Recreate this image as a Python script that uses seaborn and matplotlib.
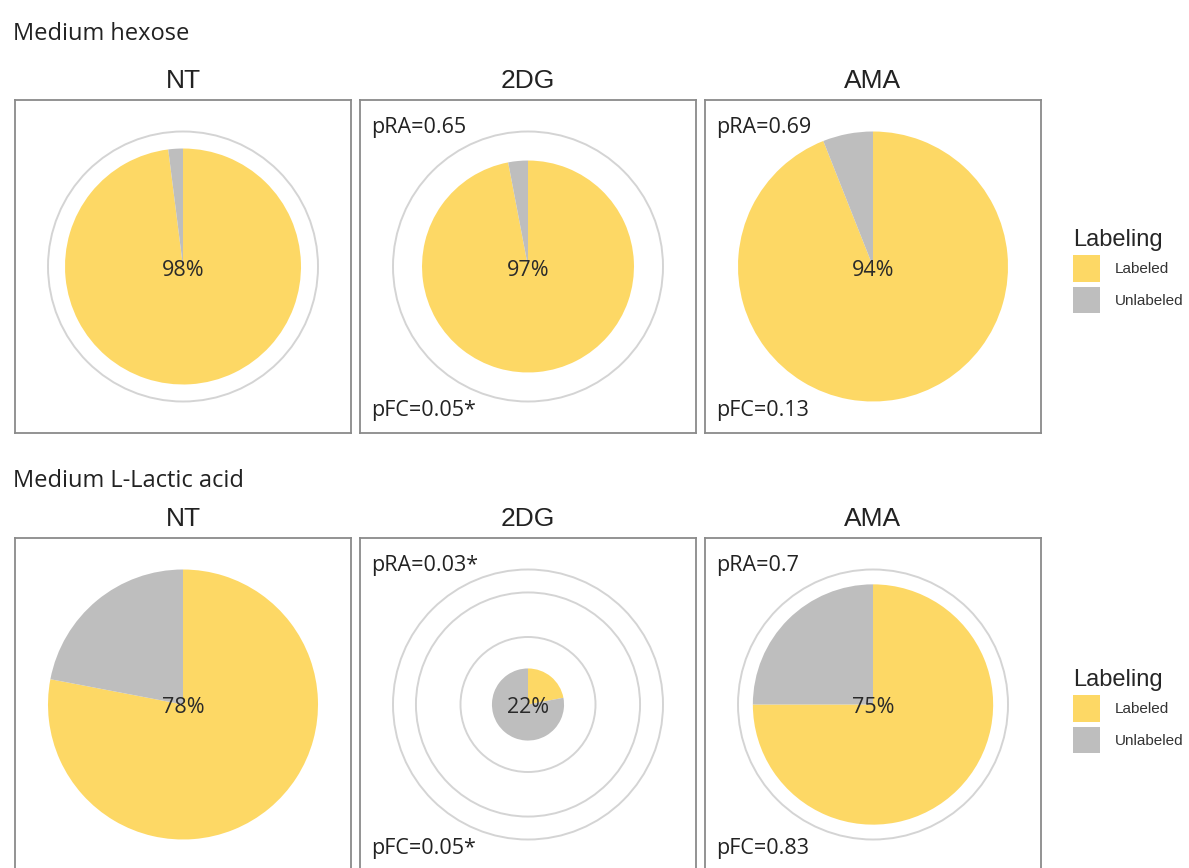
import matplotlib
matplotlib.use("Agg")
import matplotlib.pyplot as plt
from matplotlib.patches import Circle, Patch
import seaborn as sns

# ---- data -------------------------------------------------------------
row_titles = ["Medium hexose", "Medium L-Lactic acid"]
treatments = ["NT", "2DG", "AMA"]
categories = ["Labeled", "Unlabeled"]

# percent labeled per panel (row-major: hexose NT/2DG/AMA, lactate NT/2DG/AMA)
labeled_pct = [98, 97, 94, 78, 22, 75]
# relative pool size (pie radius, largest = 1)
relative_total = [0.874, 0.785, 1.0, 1.0, 0.267, 0.89]
# radial grid breaks for each panel
grid_breaks = [[1.0], [1.0], [1.0], [1.0], [0.5, 0.83, 1.0], [1.0]]
# p-values (relative abundance / fold change)
pra_text = [None, "pRA=0.65", "pRA=0.69", None, "pRA=0.03*", "pRA=0.7"]
pfc_text = [None, "pFC=0.05*", "pFC=0.13", None, "pFC=0.05*", "pFC=0.83"]

palette = {"Labeled": "#FDD865", "Unlabeled": "#BEBEBE"}

# ---- style -------------------------------------------------------------
sns.set_theme(style="white")
plt.rcParams["font.family"] = ["Open Sans", "DejaVu Sans"]
arial_like = ["Liberation Sans", "DejaVu Sans"]

W, H = 1189, 868
fig = plt.figure(figsize=(W / 100, H / 100), dpi=100)

box_w, box_h = 336, 333
col_left = [15, 360, 705]
row_top = [100, 538]
unit = 135.0  # pixels per radius unit

for r in range(2):
    fig.text(13 / W, 1 - (40 + 447 * r) / H, row_titles[r], fontsize=17,
             color="#222222", ha="left", va="baseline")
    for c in range(3):
        i = r * 3 + c
        left = col_left[c]
        top = row_top[r]
        ax = fig.add_axes([left / W, 1 - (top + box_h) / H, box_w / W, box_h / H])
        frac = labeled_pct[i] / 100.0
        ax.pie([frac, 1 - frac], radius=relative_total[i], center=(0, 0),
               startangle=90, counterclock=False,
               colors=[palette[k] for k in categories],
               wedgeprops=dict(linewidth=0), frame=True)
        # grid rings; those inside the pie are covered by it
        for b in grid_breaks[i]:
            if b > relative_total[i] + 1e-9:
                ax.add_patch(Circle((0, 0), b, fill=False, edgecolor="#D4D4D4",
                                    linewidth=1.4, zorder=0))
        ax.text(0, -9 / unit, f"{labeled_pct[i]}%", ha="center", va="baseline",
                fontsize=15.5, color="#2a2a2a", zorder=5)
        hw = box_w / 2 / unit
        hh = box_h / 2 / unit
        ax.set_xlim(-hw, hw)
        ax.set_ylim(-hh, hh)
        ax.set_aspect("equal", adjustable="datalim")
        ax.set_xticks([])
        ax.set_yticks([])
        for s in ax.spines.values():
            s.set_visible(True)
            s.set_edgecolor("#8A8A8A")
            s.set_linewidth(1.3)
        ax.set_facecolor("white")
        if pra_text[i]:
            ax.text(11 / box_w, 1 - 33 / box_h, pra_text[i], transform=ax.transAxes,
                    ha="left", va="baseline", fontsize=15.5, color="#222222")
        if pfc_text[i]:
            ax.text(11 / box_w, 17 / box_h, pfc_text[i], transform=ax.transAxes,
                    ha="left", va="baseline", fontsize=15.5, color="#222222")
        fig.text((left + box_w / 2) / W, 1 - (top - 12) / H, treatments[c],
                 ha="center", va="baseline", fontsize=19,
                 family=arial_like, color="#222222")

    handles = [Patch(facecolor=palette[k], edgecolor="none", label=k) for k in categories]
    leg = fig.legend(handles=handles, title="Labeling", loc="center left",
                     bbox_to_anchor=(1073 / W, 1 - (271 + 440 * r) / H),
                     frameon=False, borderpad=0, borderaxespad=0,
                     handlelength=1.75, handleheight=2.3, handletextpad=1.0,
                     labelspacing=0.3, alignment="left",
                     prop={"family": arial_like, "size": 11},
                     title_fontproperties={"family": arial_like, "size": 17})
    for t in leg.get_texts():
        t.set_color("#333333")

fig.savefig("out.png", dpi=100, facecolor="white")
